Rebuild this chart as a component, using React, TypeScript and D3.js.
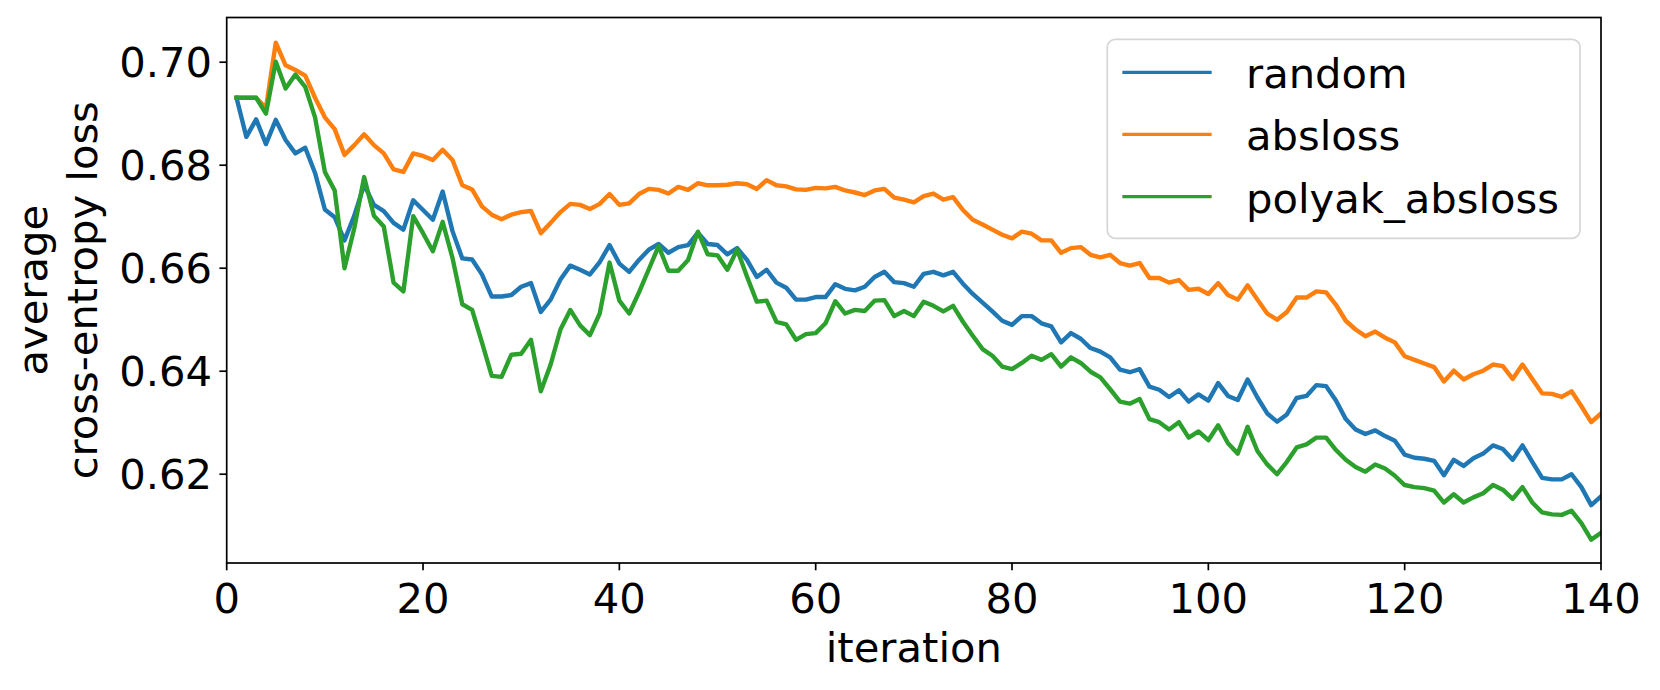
import React from "react";
import * as d3 from "d3";

const iterations: number[] = d3.range(1, 141);

const randomLoss: number[] = [
  0.6931, 0.6855, 0.6889, 0.6841, 0.6888, 0.6849, 0.6823, 0.6834, 0.6785, 0.6714,
  0.6699, 0.6654, 0.6702, 0.6762, 0.6723, 0.6711, 0.6688, 0.6675, 0.6732, 0.6713,
  0.6694, 0.6749, 0.6672, 0.6619, 0.6617, 0.6588, 0.6545, 0.6545, 0.6548, 0.6564,
  0.6571, 0.6515, 0.6539, 0.6578, 0.6605, 0.6597, 0.6588, 0.6612, 0.6645, 0.6609,
  0.6593, 0.6616, 0.6636, 0.6647, 0.6630, 0.6641, 0.6645, 0.6669, 0.6647, 0.6645,
  0.6627, 0.6639, 0.6616, 0.6583, 0.6597, 0.6572, 0.6562, 0.6539, 0.6539, 0.6544,
  0.6544, 0.6569, 0.6560, 0.6557, 0.6564, 0.6583, 0.6593, 0.6573, 0.6571, 0.6564,
  0.6589, 0.6593, 0.6586, 0.6593, 0.6570, 0.6550, 0.6533, 0.6516, 0.6498, 0.6490,
  0.6507, 0.6507, 0.6493, 0.6487, 0.6456, 0.6474, 0.6463, 0.6445, 0.6438, 0.6427,
  0.6403, 0.6398, 0.6404, 0.6370, 0.6364, 0.6350, 0.6363, 0.6341, 0.6355, 0.6343,
  0.6377, 0.6352, 0.6344, 0.6384, 0.6349, 0.6318, 0.6302, 0.6316, 0.6348, 0.6352,
  0.6373, 0.6371, 0.6343, 0.6307, 0.6287, 0.6278, 0.6285, 0.6274, 0.6265, 0.6238,
  0.6232, 0.6230, 0.6226, 0.6198, 0.6228, 0.6216, 0.6231, 0.6240, 0.6256, 0.6249,
  0.6228, 0.6256, 0.6224, 0.6193, 0.6190, 0.6190, 0.6200, 0.6175, 0.6140, 0.6157,
];

const absLoss: number[] = [
  0.6931, 0.6931, 0.6931, 0.6911, 0.7038, 0.6994, 0.6985, 0.6974, 0.6931, 0.6893,
  0.6870, 0.6820, 0.6839, 0.6860, 0.6839, 0.6823, 0.6792, 0.6787, 0.6823, 0.6818,
  0.6810, 0.6830, 0.6810, 0.6761, 0.6753, 0.6720, 0.6704, 0.6695, 0.6704, 0.6709,
  0.6711, 0.6668, 0.6688, 0.6709, 0.6725, 0.6723, 0.6715, 0.6725, 0.6744, 0.6723,
  0.6726, 0.6744, 0.6754, 0.6752, 0.6745, 0.6758, 0.6752, 0.6765, 0.6761, 0.6761,
  0.6762, 0.6765, 0.6763, 0.6754, 0.6771, 0.6761, 0.6759, 0.6753, 0.6752, 0.6756,
  0.6755, 0.6758, 0.6751, 0.6747, 0.6742, 0.6751, 0.6754, 0.6737, 0.6733, 0.6728,
  0.6740, 0.6745, 0.6733, 0.6738, 0.6713, 0.6694, 0.6685, 0.6675, 0.6665, 0.6658,
  0.6671, 0.6667, 0.6654, 0.6654, 0.6630, 0.6639, 0.6641, 0.6626, 0.6621, 0.6626,
  0.6610, 0.6605, 0.6610, 0.6581, 0.6581, 0.6572, 0.6577, 0.6558, 0.6560, 0.6550,
  0.6571, 0.6548, 0.6539, 0.6567, 0.6539, 0.6512, 0.6500, 0.6515, 0.6543, 0.6543,
  0.6555, 0.6553, 0.6529, 0.6498, 0.6481, 0.6468, 0.6477, 0.6465, 0.6456, 0.6429,
  0.6422, 0.6415, 0.6408, 0.6380, 0.6401, 0.6384, 0.6394, 0.6401, 0.6413, 0.6410,
  0.6385, 0.6413, 0.6385, 0.6357, 0.6356, 0.6350, 0.6361, 0.6332, 0.6301, 0.6318,
];

const polyakAbsLoss: number[] = [
  0.6931, 0.6931, 0.6931, 0.6900, 0.7001, 0.6949, 0.6976, 0.6952, 0.6893, 0.6787,
  0.6751, 0.6600, 0.6678, 0.6777, 0.6702, 0.6681, 0.6572, 0.6555, 0.6701, 0.6668,
  0.6633, 0.6690, 0.6620, 0.6530, 0.6519, 0.6456, 0.6391, 0.6389, 0.6432, 0.6434,
  0.6461, 0.6361, 0.6413, 0.6481, 0.6519, 0.6489, 0.6470, 0.6512, 0.6611, 0.6537,
  0.6512, 0.6553, 0.6598, 0.6643, 0.6595, 0.6595, 0.6616, 0.6671, 0.6627, 0.6625,
  0.6597, 0.6636, 0.6584, 0.6535, 0.6537, 0.6496, 0.6491, 0.6461, 0.6472, 0.6474,
  0.6493, 0.6536, 0.6512, 0.6519, 0.6517, 0.6537, 0.6538, 0.6507, 0.6517, 0.6507,
  0.6535, 0.6527, 0.6516, 0.6527, 0.6496, 0.6469, 0.6443, 0.6430, 0.6409, 0.6404,
  0.6416, 0.6430, 0.6422, 0.6433, 0.6409, 0.6427, 0.6416, 0.6399, 0.6388, 0.6365,
  0.6341, 0.6337, 0.6346, 0.6307, 0.6301, 0.6287, 0.6301, 0.6271, 0.6283, 0.6266,
  0.6295, 0.6260, 0.6240, 0.6292, 0.6245, 0.6219, 0.6200, 0.6224, 0.6252, 0.6258,
  0.6271, 0.6271, 0.6247, 0.6228, 0.6214, 0.6205, 0.6219, 0.6211, 0.6197, 0.6179,
  0.6175, 0.6173, 0.6168, 0.6145, 0.6161, 0.6145, 0.6155, 0.6163, 0.6179, 0.6170,
  0.6152, 0.6175, 0.6145, 0.6126, 0.6122, 0.6121, 0.6129, 0.6105, 0.6073, 0.6086,
];

const seriesNames: string[] = ["random", "absloss", "polyak_absloss"];
const seriesColors: string[] = ["#1f77b4", "#ff7f0e", "#2ca02c"];
const seriesValues: number[][] = [randomLoss, absLoss, polyakAbsLoss];

const xTicks: number[] = [0, 20, 40, 60, 80, 100, 120, 140];
const yTicks: number[] = [0.62, 0.64, 0.66, 0.68, 0.7];

const W = 1660;
const H = 690;
const L = 226.7;
const R = 1601;
const T = 17.5;
const B = 563;
const FS = 41.7;
const FONT = "'DejaVu Sans', sans-serif";

export default function App() {
  const x = d3.scaleLinear().domain([0, 140]).range([L, R]);
  const y = d3.scaleLinear().domain([0.60276, 0.70868]).range([B, T]);
  const line = d3
    .line<number>()
    .x((_, i) => x(iterations[i]))
    .y((v) => y(v));

  const tickLen = 7.3;
  const legendLineY = [72.3, 134.3, 196.7];

  return (
    <svg
      width={W}
      height={H}
      style={{ position: "absolute", left: 0, top: 0, background: "#fff" }}
      fontFamily={FONT}
    >
      <rect x={0} y={0} width={W} height={H} fill="#fff" />
      <defs>
        <clipPath id="plotclip">
          <rect x={L} y={T} width={R - L} height={B - T} />
        </clipPath>
      </defs>
      <g clipPath="url(#plotclip)">
        {seriesValues.map((vals, k) => (
          <path
            key={seriesNames[k]}
            d={line(vals) || ""}
            fill="none"
            stroke={seriesColors[k]}
            strokeWidth={4.4}
            strokeLinejoin="round"
            strokeLinecap="square"
          />
        ))}
      </g>
      {/* spines */}
      <rect x={L} y={T} width={R - L} height={B - T} fill="none" stroke="#000" strokeWidth={1.7} />
      {/* x ticks */}
      {xTicks.map((t) => (
        <g key={"x" + t}>
          <line x1={x(t)} x2={x(t)} y1={B} y2={B + tickLen} stroke="#000" strokeWidth={1.7} />
          <text x={x(t)} y={613.3} textAnchor="middle" fontSize={FS} fill="#000">
            {t}
          </text>
        </g>
      ))}
      {/* y ticks */}
      {yTicks.map((t) => (
        <g key={"y" + t}>
          <line x1={L - tickLen} x2={L} y1={y(t)} y2={y(t)} stroke="#000" strokeWidth={1.7} />
          <text
            x={L - tickLen - 7.3}
            y={y(t)}
            dy="0.36em"
            textAnchor="end"
            fontSize={FS}
            fill="#000"
          >
            {d3.format(".2f")(t)}
          </text>
        </g>
      ))}
      {/* axis labels */}
      <text x={(L + R) / 2} y={662} textAnchor="middle" fontSize={FS} fill="#000">
        iteration
      </text>
      <text transform={`translate(47, ${(T + B) / 2}) rotate(-90)`} textAnchor="middle" fontSize={FS} fill="#000">
        average
      </text>
      <text transform={`translate(97, ${(T + B) / 2}) rotate(-90)`} textAnchor="middle" fontSize={FS} fill="#000">
        cross-entropy loss
      </text>
      {/* legend */}
      <rect
        x={1107.3}
        y={39.3}
        width={1580 - 1107.3}
        height={238.3 - 39.3}
        rx={8}
        ry={8}
        fill="#fff"
        fillOpacity={0.8}
        stroke="#d6d6d6"
        strokeWidth={1.7}
      />
      {seriesNames.map((name, k) => (
        <g key={"leg" + name}>
          <line
            x1={1124}
            x2={1210}
            y1={legendLineY[k]}
            y2={legendLineY[k]}
            stroke={seriesColors[k]}
            strokeWidth={3.3}
            strokeLinecap="square"
          />
          <text x={1246} y={legendLineY[k]} dy="0.38em" fontSize={FS} fill="#000">
            {name}
          </text>
        </g>
      ))}
    </svg>
  );
}
